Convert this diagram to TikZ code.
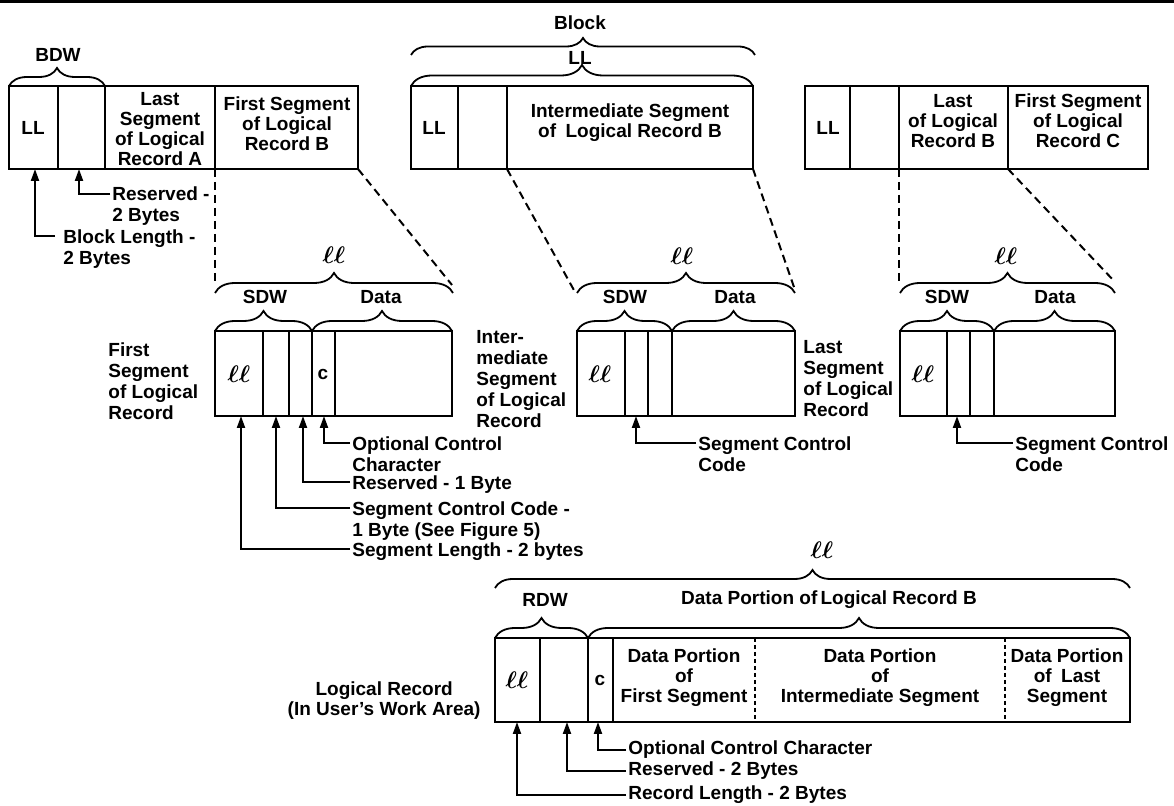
\documentclass[tikz,border=0pt]{standalone}
\usepackage{bm}
\usepackage{fontspec}
\setmainfont{Liberation Sans}
\usetikzlibrary{arrows.meta,decorations.pathreplacing}
\tikzset{
  rec/.style={line width=1pt},
  cut/.style={line width=1pt,dash pattern=on 4pt off 2.5pt},
  fine cut/.style={line width=0.7pt,dash pattern=on 2pt off 1.5pt},
  brc/.style={line width=0.9pt,decorate,decoration={brace,amplitude=#1}},
  brc/.default=10pt,
  lbl/.style={inner sep=0pt,font=\fontsize{9.5}{10.5}\selectfont\bfseries,align=left},
  ctr/.style={inner sep=0pt,font=\fontsize{9.5}{10}\selectfont\bfseries,align=center},
  ptr/.style={line width=1pt,-{Triangle[length=6pt,width=4pt]}},
}
\newcommand{\seglen}{{\fontsize{12}{12}\selectfont$\bm{\ell\ell}$}}
\begin{document}
\begin{tikzpicture}[x=0.5pt,y=-0.5pt]
\useasboundingbox (0,0) rectangle (1174,806);
\draw[line width=1.5pt] (0,2)--(1174,2);

\coordinate (A) at (9,86); \coordinate (B) at (358,169);
\draw[rec] (A) rectangle (B);
\draw[rec] (58,86)--(58,169) (105,86)--(105,169) (215,86)--(215,169);
\node[ctr] (llA) at (33,128) {LL};
\node[ctr] (lastA) at (160,129) {Last\\Segment\\of Logical\\Record A};
\node[ctr] (firstB) at (287,124) {First Segment\\of Logical\\Record B};
\draw[brc=9pt] (9,86)--(105,86);
\node[ctr] (bdw) at (58,55) {BDW};
\coordinate (bA) at (35,169); \coordinate (rA) at (79,169);
\node[lbl,anchor=north west] (blen) at (63,229) {Block Length -\\2 Bytes};
\node[lbl,anchor=north west] (resA) at (112,186) {Reserved -\\2 Bytes};
\draw[ptr] ([xshift=-4pt,yshift=-3.5pt]blen.north west) -| (bA);
\draw[ptr] ([xshift=-1pt,yshift=-4pt]resA.north west) -| (rA);

\coordinate (C) at (411,86); \coordinate (D) at (753,169);
\draw[rec] (C) rectangle (D);
\draw[rec] (458,86)--(458,169) (507,86)--(507,169);
\node[ctr] (llB) at (434,128) {LL};
\node[ctr] (midB) at (630,123) {Intermediate Segment\\of\enspace Logical Record B};
\draw[brc=10.5pt] (411,86)--(753,86);
\node[ctr] (blkll) at (580,58) {LL};
\draw[brc=8.5pt] (411,55)--(755,55);
\node[ctr] (blk) at (580,23) {Block};

\coordinate (E) at (805,86); \coordinate (F) at (1148,169);
\draw[rec] (E) rectangle (F);
\draw[rec] (850,86)--(850,169) (899,86)--(899,169) (1008,86)--(1008,169);
\node[ctr] (llC) at (828,128) {LL};
\node[ctr] (lastB) at (953,121) {Last\\of Logical\\Record B};
\node[ctr] (firstC) at (1078,121) {First Segment\\of Logical\\Record C};

\draw[cut] (215,169)--(215,282); \draw[cut] (B)--(452,285);
\draw[cut] (507,169)--(575,292); \draw[cut] (753,169)--(795,290);
\draw[cut] (899,169)--(899,282); \draw[cut] (1008,169)--(1115,282);

\coordinate (G) at (215,331); \coordinate (H) at (452,416);
\draw[rec] (G) rectangle (H);
\draw[rec] (263,331)--(263,416) (289,331)--(289,416) (312,331)--(312,416) (335,331)--(335,416);
\node[ctr] (ll1) at (239,374) {\seglen};
\node[ctr] (c1) at (323,374) {c};
\draw[brc] (215,293)--(453,293);
\node[ctr] (len1) at (334,255) {\seglen};
\draw[brc] (215,331)--(312,331); \draw[brc] (312,331)--(452,331);
\node[ctr] (sdw1) at (265,297) {SDW};
\node[ctr] (dat1) at (381,297) {Data};
\node[lbl,anchor=west] (seg1) at (108,381) {First\\Segment\\of Logical\\Record};
\coordinate (p1) at (241,416); \coordinate (p2) at (276,416);
\coordinate (p3) at (303,416); \coordinate (p4) at (324,416);
\node[lbl,anchor=north west] (occ1) at (352,436) {Optional Control\\Character};
\node[lbl,anchor=north west] (res1) at (352,475) {Reserved - 1 Byte};
\node[lbl,anchor=north west] (scc1) at (352,501) {Segment Control Code -\\1 Byte (See Figure 5)};
\node[lbl,anchor=north west] (sl1) at (352,542) {Segment Length - 2 bytes};
\draw[ptr] ([xshift=-1pt,yshift=-3.5pt]occ1.north west) -| (p4);
\draw[ptr] ([xshift=-1pt,yshift=-3.5pt]res1.north west) -| (p3);
\draw[ptr] ([xshift=-1pt,yshift=-3.5pt]scc1.north west) -| (p2);
\draw[ptr] ([xshift=-1pt,yshift=-3.5pt]sl1.north west) -| (p1);

\coordinate (I) at (577,331); \coordinate (J) at (795,416);
\draw[rec] (I) rectangle (J);
\draw[rec] (625,331)--(625,416) (648,331)--(648,416) (672,331)--(672,416);
\node[ctr] (ll2) at (600,374) {\seglen};
\draw[brc] (577,293)--(795,293);
\node[ctr] (len2) at (682,256) {\seglen};
\draw[brc] (577,331)--(672,331); \draw[brc] (672,331)--(795,331);
\node[ctr] (sdw2) at (625,297) {SDW};
\node[ctr] (dat2) at (735,297) {Data};
\node[lbl,anchor=west] (seg2) at (476,379) {Inter-\\mediate\\Segment\\of Logical\\Record};
\coordinate (p5) at (636,416);
\node[lbl,anchor=north west] (scc2) at (698,436) {Segment Control\\Code};
\draw[ptr] ([xshift=-1pt,yshift=-3.5pt]scc2.north west) -| (p5);

\coordinate (K) at (900,331); \coordinate (L) at (1115,416);
\draw[rec] (K) rectangle (L);
\draw[rec] (947,331)--(947,416) (970,331)--(970,416) (994,331)--(994,416);
\node[ctr] (ll3) at (923,374) {\seglen};
\draw[brc] (900,293)--(1115,293);
\node[ctr] (len3) at (1006,256) {\seglen};
\draw[brc] (900,331)--(994,331); \draw[brc] (994,331)--(1115,331);
\node[ctr] (sdw3) at (947,297) {SDW};
\node[ctr] (dat3) at (1055,297) {Data};
\node[lbl,anchor=west] (seg3) at (803,379) {Last\\Segment\\of Logical\\Record};
\coordinate (p6) at (957,416);
\node[lbl,anchor=north west] (scc3) at (1015,436) {Segment Control\\Code};
\draw[ptr] ([xshift=-1pt,yshift=-3.5pt]scc3.north west) -| (p6);

\coordinate (M) at (495,638); \coordinate (N) at (1130,722);
\draw[rec] (M) rectangle (N);
\draw[rec] (540,638)--(540,722) (588,638)--(588,722) (613,638)--(613,722);
\draw[fine cut] (755,638)--(755,722) (1005,638)--(1005,722);
\node[ctr] (llR) at (517,680) {\seglen};
\node[ctr] (cR) at (600,680) {c};
\node[ctr] (dpf) at (684,678) {Data Portion\\of\\First Segment};
\node[ctr] (dpi) at (880,678) {Data Portion\\of\\Intermediate Segment};
\node[ctr] (dpl) at (1067,678) {Data Portion\\of\enspace Last\\Segment};
\draw[brc=9pt] (495,588)--(1130,588);
\node[ctr] (lenR) at (822,550) {\seglen};
\draw[brc] (495,638)--(588,638); \draw[brc] (588,638)--(1130,638);
\node[ctr] (rdw) at (545,600) {RDW};
\node[ctr] (dpB) at (829,600) {Data Portion of\,Logical Record B};
\node[ctr,anchor=east] (lrec) at (481,701) {Logical Record\\(In User's Work Area)};
\coordinate (q1) at (517,722); \coordinate (q2) at (567,722); \coordinate (q3) at (598,722);
\node[lbl,anchor=west] (occR) at (628,750) {Optional Control Character};
\node[lbl,anchor=west] (resR) at (628,771) {Reserved - 2 Bytes};
\node[lbl,anchor=west] (rlR) at (628,795) {Record Length - 2 Bytes};
\draw[ptr] ([xshift=-1pt]occR.west) -| (q3);
\draw[ptr] ([xshift=-1pt]resR.west) -| (q2);
\draw[ptr] ([xshift=-1pt]rlR.west) -| (q1);
\end{tikzpicture}
\end{document}
